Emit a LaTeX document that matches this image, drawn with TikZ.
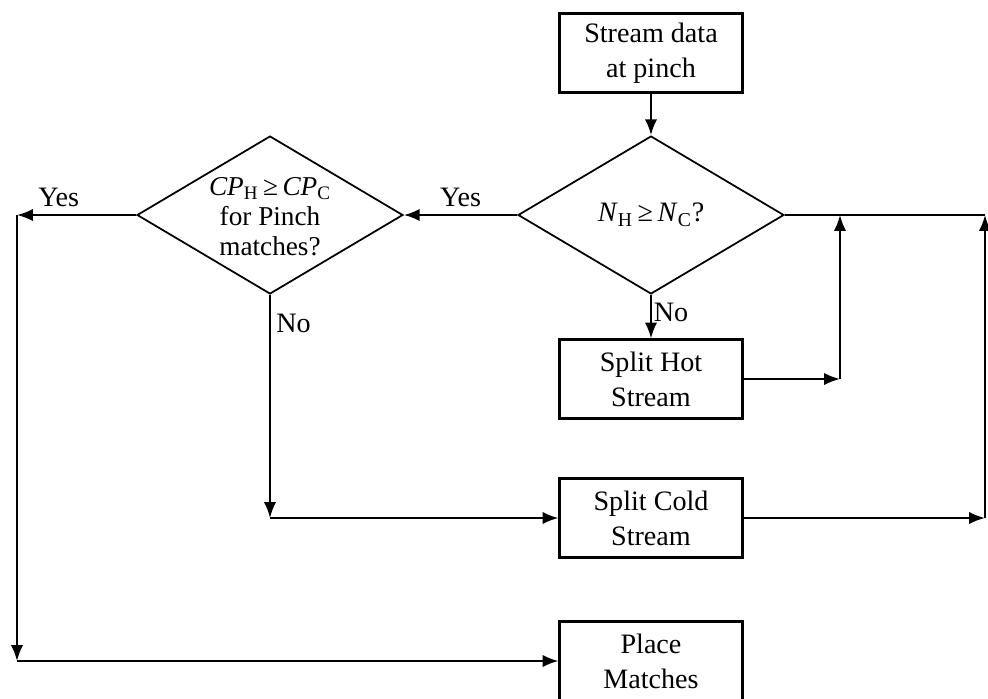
\documentclass[tikz,border=0pt]{standalone}
\usepackage{fontspec}
\setmainfont{Liberation Serif}
\usetikzlibrary{positioning,calc,arrows.meta,shapes.geometric}
\def\sH{\textsubscript{H}}
\def\sC{\textsubscript{C}}
\tikzset{procbox/.style={draw,rectangle,line width=1.2pt,minimum width=3.66cm,minimum height=1.58cm,inner sep=0pt,align=center,font=\fontsize{16}{20}\selectfont}  }
\tikzset{decbox/.style={draw,diamond,line width=1pt,minimum width=5.32cm,minimum height=3.16cm,inner sep=0pt}  }
\tikzset{lbl/.style={font=\fontsize{16}{18}\selectfont,inner sep=1pt}  }
\tikzset{>={Latex[length=9pt,width=7pt]}}

\begin{document}
\begin{tikzpicture}[x=0.02cm,y=-0.02cm,line width=1.2pt]
		\useasboundingbox (0,0) rectangle (988,698);
		\node[procbox] (data) at (651,53) {Stream data\\at pinch};
		\node[decbox] (nn) at (651,215) {};
		\node[lbl] (nntxt) at (nn) {\textit{N}\sH\,≥\,\textit{N}\sC?};
		\node[decbox] (cp) at (270,215) {};
		\node[lbl,align=center,font=\fontsize{15.5}{17}\selectfont] (cptxt) at ([yshift=-0.04cm]cp) {\textit{CP}\sH\,≥\,\textit{CP}\sC\\for Pinch\\matches?};
		\node[procbox] (hot) at (651,379) {Split Hot\\Stream};
		\node[procbox] (cold) at (651,518) {Split Cold\\Stream};
		\node[procbox] (place) at (651,661) {Place\\Matches};

			\coordinate (ylft) at (17,215);
			\coordinate (blft) at (17,661);
			\coordinate (cno) at (270,518);
			\coordinate (hjoin) at (840,379);
			\coordinate (hup) at (840,215);
			\coordinate (rtop) at (985,215);
			\coordinate (rbot) at (985,518);

			\draw[->] (data) -- (nn);
			\draw[->] (nn.west) -- node[lbl,above=3pt,pos=0.5] {Yes} (cp.east);
			\draw[->] (cp.west) -- node[lbl,above=3pt,pos=0.65] {Yes} (ylft);
			\draw[->] (ylft) -- (blft);
			\draw[->] (blft) -- (place.west);
			\draw[->] (cp.south) -- node[lbl,right=2pt,pos=0.13] {No} (cno);
			\draw[->] (cno) -- (cold.west);
			\draw[->] (nn.south) -- node[lbl,right,pos=0.4] {No} (hot.north);
			\draw[->] (hot.east) -- (hjoin);
			\draw[->] (hjoin) -- (hup);
			\draw[-] (nn.east) -- (rtop);
			\draw[->] (cold.east) -- (rbot);
			\draw[->] (rbot) -- (rtop);
	\end{tikzpicture}
\end{document}
